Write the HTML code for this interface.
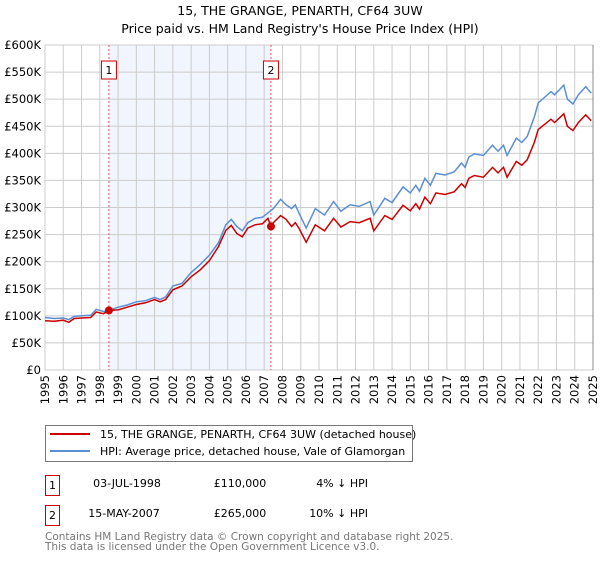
<!DOCTYPE html>
<html><head><meta charset="utf-8"><style>
body{margin:0;background:#fff;font-family:"DejaVu Sans","Liberation Sans",sans-serif;}
svg text{font-family:"DejaVu Sans","Liberation Sans",sans-serif;}
</style></head><body>
<svg id="chart" width="600" height="560" xmlns="http://www.w3.org/2000/svg">
<text x="300" y="15" text-anchor="middle" font-size="12.5">15, THE GRANGE, PENARTH, CF64 3UW</text>
<text x="300" y="33" text-anchor="middle" font-size="12.5">Price paid vs. HM Land Registry's House Price Index (HPI)</text>
<g id="plot"></g>
<g>
<rect x="45.5" y="425.5" width="367" height="36" fill="#fff" stroke="#777"/>
<line x1="50" y1="434" x2="90" y2="434" stroke="#cc0000" stroke-width="2"/>
<text x="100" y="438" font-size="11">15, THE GRANGE, PENARTH, CF64 3UW (detached house)</text>
<line x1="50" y1="451" x2="90" y2="451" stroke="#5b8fd4" stroke-width="2"/>
<text x="100" y="455" font-size="11">HPI: Average price, detached house, Vale of Glamorgan</text>
</g>
<g font-size="11">
<rect x="45.5" y="475.5" width="14" height="20" fill="#fff" stroke="#cc0000"/>
<text x="52.5" y="489" text-anchor="middle">1</text>
<text x="127" y="487" text-anchor="middle">03-JUL-1998</text>
<text x="240" y="487" text-anchor="middle">£110,000</text>
<text x="368" y="487" text-anchor="end">4% ↓ HPI</text>
<rect x="45.5" y="505.5" width="14" height="20" fill="#fff" stroke="#cc0000"/>
<text x="52.5" y="519" text-anchor="middle">2</text>
<text x="124" y="517" text-anchor="middle">15-MAY-2007</text>
<text x="240" y="517" text-anchor="middle">£265,000</text>
<text x="368" y="517" text-anchor="end">10% ↓ HPI</text>
</g>
<text x="45" y="540" font-size="10.5" fill="#777">Contains HM Land Registry data © Crown copyright and database right 2025.</text>
<text x="45" y="550" font-size="10.5" fill="#777">This data is licensed under the Open Government Licence v3.0.</text>
</svg>
<script>
const yTicks=[0,50,100,150,200,250,300,350,400,450,500,550,600];
const yTickLabels=["£0","£50K","£100K","£150K","£200K","£250K","£300K","£350K","£400K","£450K","£500K","£550K","£600K"];
const xYears=[1995,1996,1997,1998,1999,2000,2001,2002,2003,2004,2005,2006,2007,2008,2009,2010,2011,2012,2013,2014,2015,2016,2017,2018,2019,2020,2021,2022,2023,2024,2025];
const hpiT=[1995,1995.5,1996,1996.3,1996.6,1997,1997.5,1997.8,1998.2,1998.5,1999,1999.5,2000,2000.5,2001,2001.3,2001.6,2002,2002.5,2003,2003.5,2004,2004.5,2004.9,2005.2,2005.5,2005.8,2006.1,2006.5,2006.9,2007.2,2007.5,2007.9,2008.2,2008.5,2008.7,2008.9,2009.3,2009.8,2010.3,2010.8,2011.2,2011.7,2012.2,2012.8,2013.0,2013.6,2014.0,2014.6,2015.0,2015.3,2015.5,2015.8,2016.1,2016.4,2016.9,2017.4,2017.8,2018.0,2018.2,2018.5,2019.0,2019.5,2019.8,2020.1,2020.3,2020.8,2021.1,2021.4,2021.8,2022.0,2022.7,2022.9,2023.4,2023.6,2023.9,2024.2,2024.6,2024.9];
const hpiV=[97,95,96,93,99,100,101,112,108,110,116,120,126,128,134,130,135,155,160,180,195,212,235,268,278,265,257,272,280,282,290,298,315,305,298,305,290,262,298,286,311,293,305,302,311,286,317,309,338,327,341,330,354,341,363,360,366,382,374,393,399,396,415,404,415,396,428,420,431,468,493,514,508,526,500,491,508,523,511];
const propT=[1995,1995.5,1996,1996.3,1996.6,1997,1997.5,1997.8,1998.2,1998.5,1999,1999.5,2000,2000.5,2001,2001.3,2001.6,2002,2002.5,2003,2003.5,2004,2004.5,2004.9,2005.2,2005.5,2005.8,2006.1,2006.5,2006.9,2007.2,2007.37,2007.5,2007.9,2008.2,2008.5,2008.7,2008.9,2009.3,2009.8,2010.3,2010.8,2011.2,2011.7,2012.2,2012.8,2013.0,2013.6,2014.0,2014.6,2015.0,2015.3,2015.5,2015.8,2016.1,2016.4,2016.9,2017.4,2017.8,2018.0,2018.2,2018.5,2019.0,2019.5,2019.8,2020.1,2020.3,2020.8,2021.1,2021.4,2021.8,2022.0,2022.7,2022.9,2023.4,2023.6,2023.9,2024.2,2024.6,2024.9];
const propV=[91,90,92,88,95,96,97,107,104,110,111,116,121,124,130,126,130,148,155,172,185,202,228,258,267,252,246,262,268,270,280,265,272,285,278,265,272,262,236,268,257,280,264,274,272,280,257,285,278,304,294,307,297,319,307,327,324,329,344,337,354,359,356,374,364,374,356,385,378,388,421,444,463,457,473,450,442,457,471,460];
const saleT=[1998.5,2007.37];
const saleV=[110,265];
const saleLabels=["1","2"];

const X0=45,X1=593,Y0=370,Y1=45;
const xs=t=>X0+(t-1995)/(2025-1995)*(X1-X0);
const ys=v=>Y0-v/600*(Y0-Y1);
const NS="http://www.w3.org/2000/svg";
const g=document.getElementById('plot');
function mk(tag,attrs,parent){const e=document.createElementNS(NS,tag);for(const k in attrs)e.setAttribute(k,attrs[k]);(parent||g).appendChild(e);return e;}
// shaded span
const sh=mk('rect',{x:xs(saleT[0]),y:Y1,width:xs(saleT[1])-xs(saleT[0]),height:Y0-Y1,fill:'#eef3fc',opacity:0.8});


// grid
yTicks.forEach((v,i)=>{
  const l=mk('line',{x1:X0,x2:X1,y1:ys(v),y2:ys(v),stroke:'#cccccc','stroke-width':1});
  
  
  const t=mk('text',{x:X0-4,y:ys(v)+4,'text-anchor':'end','font-size':11.5,fill:'#000'});
  t.textContent=yTickLabels[i];
  
  
});
xYears.forEach(yr=>{
  const l=mk('line',{x1:xs(yr),x2:xs(yr),y1:Y1,y2:Y0,stroke:'#cccccc','stroke-width':1});
  
  
  const t=mk('text',{x:0,y:0,'text-anchor':'end','font-size':11.5,transform:`translate(${xs(yr)+4},${Y0+5}) rotate(-90)`});
  t.textContent=yr;
  
  
});
// sale vlines
saleT.forEach((t,i)=>{
  const l=mk('line',{x1:xs(t),x2:xs(t),y1:Y1,y2:Y0,stroke:'#e05555','stroke-width':1,'stroke-dasharray':'2,2'});
  
  
  const r=mk('rect',{x:xs(t)-7.5,y:61,width:15,height:18,fill:'#fff',stroke:'#cc0000'});
  
  
  const tx=mk('text',{x:xs(t),y:74,'text-anchor':'middle','font-size':11});
  tx.textContent=saleLabels[i];
  
  
});
function pts(T,V){return T.map((t,i)=>xs(t).toFixed(1)+','+ys(V[i]).toFixed(1)).join(' ');}
const hl=mk('polyline',{points:pts(hpiT,hpiV),fill:'none',stroke:'#5b8fd4','stroke-width':1.5});


const pl=mk('polyline',{points:pts(propT,propV),fill:'none',stroke:'#cc0000','stroke-width':1.5});


saleT.forEach((t,i)=>{
  const c=mk('circle',{cx:xs(t),cy:ys(saleV[i]),r:4,fill:'#cc0000'});
  
  
});
const ax=mk('line',{x1:X1,x2:X1,y1:Y1,y2:Y0,stroke:'#888','stroke-width':1});


</script>
</body></html>
